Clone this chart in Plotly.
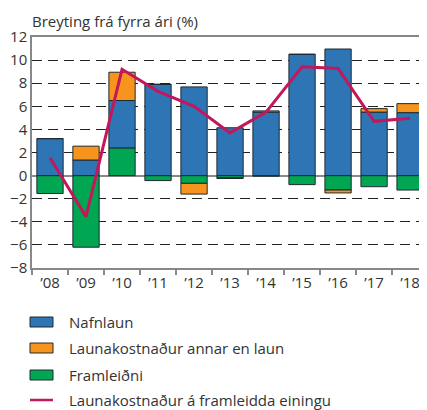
import plotly.graph_objects as go

years = ["’08", "’09", "’10", "’11", "’12", "’13", "’14", "’15", "’16", "’17", "’18"]
nafnlaun = [3.2, 1.35, 4.1, 7.9, 7.68, 4.14, 5.5, 10.5, 10.96, 5.5, 5.45]
annar = [0.0, 1.2, 2.45, 0.0, -0.93, -0.05, 0.1, 0.0, -0.25, 0.3, 0.78]
framleidni = [-1.55, -6.2, 2.4, -0.43, -0.67, -0.2, -0.05, -0.78, -1.25, -0.96, -1.25]
launakostn = [1.55, -3.55, 9.2, 7.3, 6.0, 3.7, 5.5, 9.42, 9.28, 4.7, 4.96]

BLUE = "#2E75B6"
ORANGE = "#F7941D"
GREEN = "#00A651"
LINE = "#C2185B"
EDGE = "#1F2A33"
FONT = "Open Sans"
TXT = "#333333"

fig = go.Figure()
# Stack order: framleidni next to zero, then nafnlaun, then annar
fig.add_bar(x=years, y=framleidni, name="Framleiðni", marker=dict(color=GREEN, line=dict(color=EDGE, width=1)))
fig.add_bar(x=years, y=nafnlaun, name="Nafnlaun", marker=dict(color=BLUE, line=dict(color=EDGE, width=1)))
fig.add_bar(x=years, y=annar, name="Launakostnaður annar en laun", marker=dict(color=ORANGE, line=dict(color=EDGE, width=1)))
fig.add_scatter(x=years, y=launakostn, mode="lines", name="Launakostnaður á framleidda einingu",
                line=dict(color=LINE, width=3))

# page has an 8px body margin: figure is offset by (8, 8)
OFF = 8
fig.update_layout(
    width=427 - OFF, height=410 - OFF,
    margin=dict(l=32 - OFF, r=0, t=37 - OFF, b=142),
    barmode="relative",
    bargap=0.27,
    showlegend=False,
    plot_bgcolor="white", paper_bgcolor="white",
    font=dict(family=FONT, size=15, color=TXT),
)
fig.update_xaxes(
    range=[-0.5, 10.47],
    showline=True, linecolor="#888888", linewidth=1.5, mirror=True,
    ticks="outside", tickson="boundaries", ticklen=5, tickcolor="#888888", tickwidth=1.5,
    showgrid=False, ticklabeloverflow="allow",
    tickfont=dict(size=15, color=TXT),
)
fig.update_yaxes(
    range=[-8, 12], dtick=2,
    showline=True, linecolor="#888888", linewidth=1.5,
    showgrid=True, gridcolor="#222222", griddash="10px,6px", gridwidth=1,
    zeroline=True, zerolinecolor="#888888", zerolinewidth=1.5,
    ticks="", tickfont=dict(size=15, color=TXT),
)

# helpers: page pixel -> paper coords (plot area spans page x 32..427, y 37..268)
def px2x(px):
    return (px - 32) / 395

def py2y(py):
    return (268 - py) / 231

fig.add_annotation(text="Breyting frá fyrra ári (%)", xref="paper", yref="paper",
                   x=px2x(30), y=py2y(21), xanchor="left", yanchor="middle",
                   showarrow=False, font=dict(size=15, color=TXT))

legend_items = [
    ("box", BLUE, "Nafnlaun", 322),
    ("box", ORANGE, "Launakostnaður annar en laun", 348),
    ("box", GREEN, "Framleiðni", 375),
    ("line", LINE, "Launakostnaður á framleidda einingu", 400),
]
for kind, col, label, cy in legend_items:
    if kind == "box":
        fig.add_shape(type="rect", xref="paper", yref="paper",
                      x0=px2x(30), x1=px2x(53), y0=py2y(cy - 5), y1=py2y(cy + 5),
                      fillcolor=col, line=dict(color=EDGE, width=1))
    else:
        fig.add_shape(type="line", xref="paper", yref="paper",
                      x0=px2x(30), x1=px2x(53), y0=py2y(cy), y1=py2y(cy),
                      line=dict(color=col, width=2.5))
    fig.add_annotation(text=label, xref="paper", yref="paper", x=px2x(67), y=py2y(cy),
                       xanchor="left", yanchor="middle", showarrow=False,
                       font=dict(size=15, color=TXT))

fig.write_html("out.html")
